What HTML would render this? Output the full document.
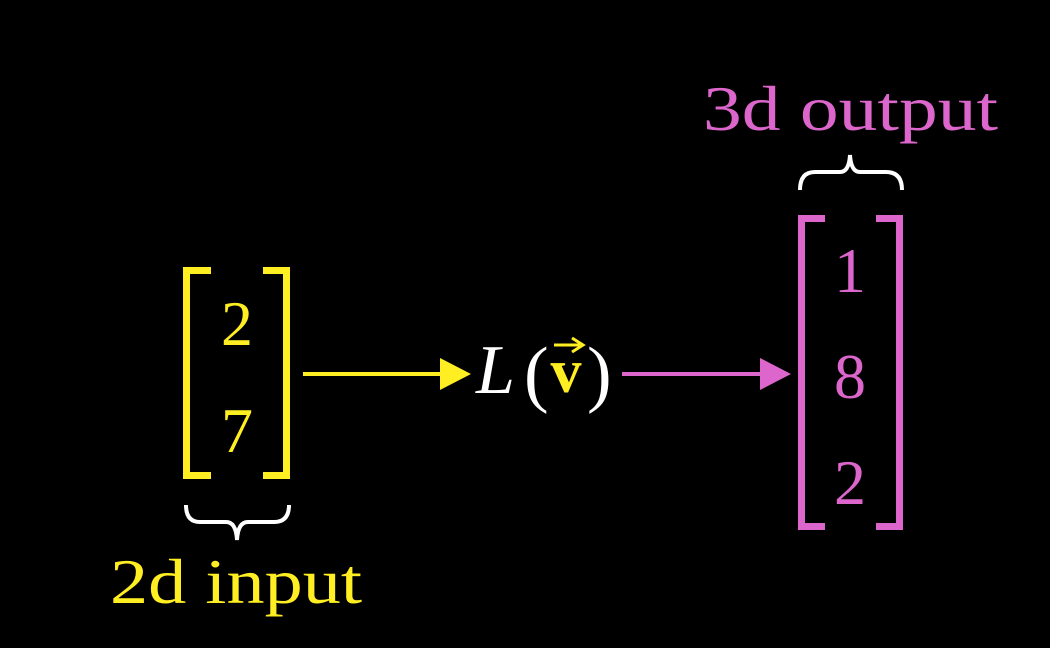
<!DOCTYPE html>
<html><head><meta charset="utf-8"><style>
html,body{margin:0;padding:0;background:#000;}
svg{display:block;}
text{font-family:"Liberation Serif","DejaVu Serif",serif;}
</style></head><body>
<svg width="1050" height="648" viewBox="0 0 1050 648">
<rect width="1050" height="648" fill="#000"/>
<g fill="#FFEE22">
  <path d="M183 267 H211 V274 H190 V472 H211 V479 H183 Z"/>
  <path d="M290 267 H263 V274 H283 V472 H263 V479 H290 Z"/>
  <text x="237" y="345" font-size="64" text-anchor="middle">2</text>
  <text x="237" y="452" font-size="64" text-anchor="middle">7</text>
</g>
<path d="M186 505 Q186 522 200 522 H226 Q236 522 237 540 Q238 522 248 522 H274 Q289 522 289 505" fill="none" stroke="#fff" stroke-width="4"/>
<text x="110" y="603" font-size="64" textLength="252" lengthAdjust="spacingAndGlyphs" fill="#FFEE22">2d input</text>
<g>
  <line x1="303" y1="374" x2="442" y2="374" stroke="#FFEE22" stroke-width="4"/>
  <path d="M440 358 L471 374 L440 390 Z" fill="#FFEE22"/>
</g>
<g>
  <text x="476" y="393" font-size="70" font-style="italic" fill="#fff">L</text>
  <text x="524" y="398" font-size="74" fill="#fff">(</text>
  <text x="566" y="392" font-size="62" font-weight="bold" fill="#FFEE22" text-anchor="middle">v</text>
  <line x1="554" y1="345" x2="580" y2="345" stroke="#FFEE22" stroke-width="3"/>
  <path d="M572 338 L583 345 L572 352" fill="none" stroke="#FFEE22" stroke-width="3"/>
  <text x="587" y="398" font-size="74" fill="#fff">)</text>
</g>
<g>
  <line x1="622" y1="374" x2="762" y2="374" stroke="#DD66CC" stroke-width="4"/>
  <path d="M760 358 L791 374 L760 390 Z" fill="#DD66CC"/>
</g>
<g fill="#DD66CC">
  <path d="M798 215 H825 V222 H805 V523 H825 V530 H798 Z"/>
  <path d="M903 215 H876 V222 H896 V523 H876 V530 H903 Z"/>
  <text x="850" y="292" font-size="64" text-anchor="middle">1</text>
  <text x="850" y="398" font-size="64" text-anchor="middle">8</text>
  <text x="850" y="504" font-size="64" text-anchor="middle">2</text>
</g>
<path d="M800 190 Q800 172 815 172 H840 Q849 172 850 155 Q851 172 860 172 H886 Q902 172 902 190" fill="none" stroke="#fff" stroke-width="4"/>
<text x="703" y="130" font-size="64" textLength="295" lengthAdjust="spacingAndGlyphs" fill="#DD66CC">3d output</text>
</svg>
</body></html>
